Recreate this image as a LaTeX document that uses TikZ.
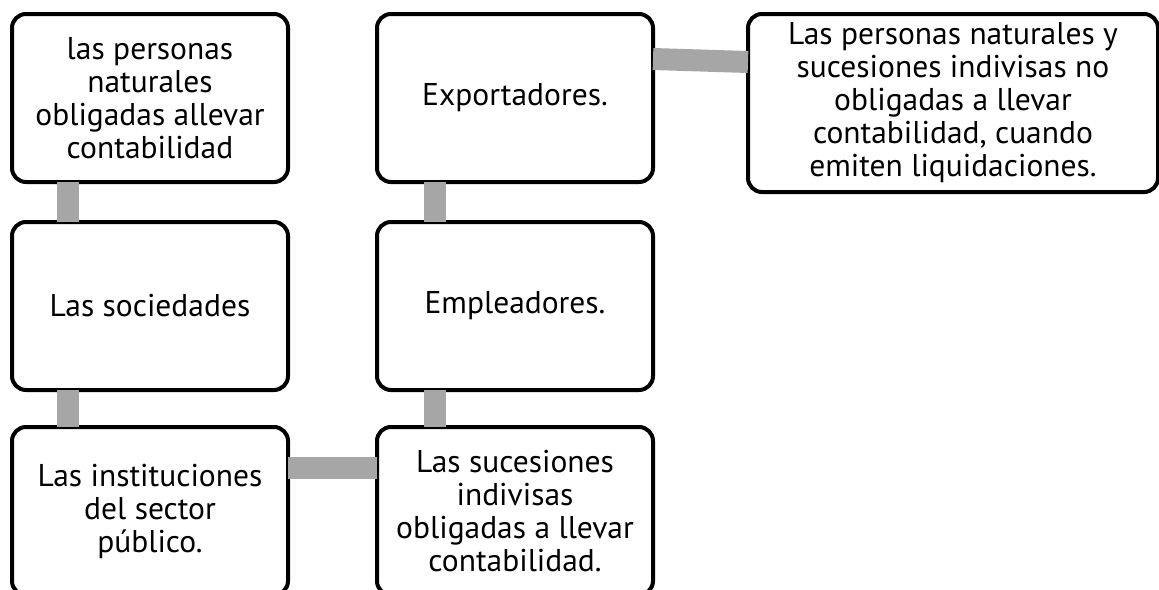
\documentclass[tikz,border=0pt]{standalone}
\usepackage{fontspec}
\setmainfont{PT Sans}
\usetikzlibrary{positioning}
\begin{document}
\begin{tikzpicture}[x=1pt, y=-1pt,
  caja/.style={draw, line width=4pt, rounded corners=14pt, fill=white, align=center,
    minimum width=276pt, minimum height=168pt, inner sep=0pt, outer sep=0pt,
    font=\fontsize{31.5}{33}\selectfont},
  enlace/.style={draw=black!35, line width=22pt}]
\useasboundingbox (0,0) rectangle (1159,589);
\node [caja] (personas) at (150,98) {las personas\\naturales\\obligadas allevar\\contabilidad};
\node [caja, right=89pt of personas] (export) {Exportadores.};
\node [caja, minimum width=410pt, minimum height=178pt] (noobl) at (953,103) {Las personas naturales y\\sucesiones indivisas no\\obligadas a llevar\\contabilidad, cuando\\emiten liquidaciones.};
\node [caja, below=40pt of personas] (socied) {Las sociedades};
\node [caja, below=40pt of export] (emple) {Empleadores.};
\node [caja, below=37pt of socied] (instit) {Las instituciones\\del sector\\público.};
\node [caja, below=37pt of emple] (suces) {Las sucesiones\\indivisas\\obligadas a llevar\\contabilidad.};
% enlaces grises
\draw [enlace] ([xshift=56pt]personas.south west)--([xshift=56pt]socied.north west);
\draw [enlace] ([xshift=56pt]socied.south west)--([xshift=56pt]instit.north west);
\draw [enlace] ([xshift=58pt]export.south west)--([xshift=58pt]emple.north west);
\draw [enlace] ([xshift=58pt]emple.south west)--([xshift=58pt]suces.north west);
\draw [enlace] ([yshift=-41pt]instit.north east)--([yshift=-41pt]suces.north west);
\draw [enlace] ([yshift=-45pt]export.north east)--([yshift=-48pt]noobl.north west);
\end{tikzpicture}
\end{document}
